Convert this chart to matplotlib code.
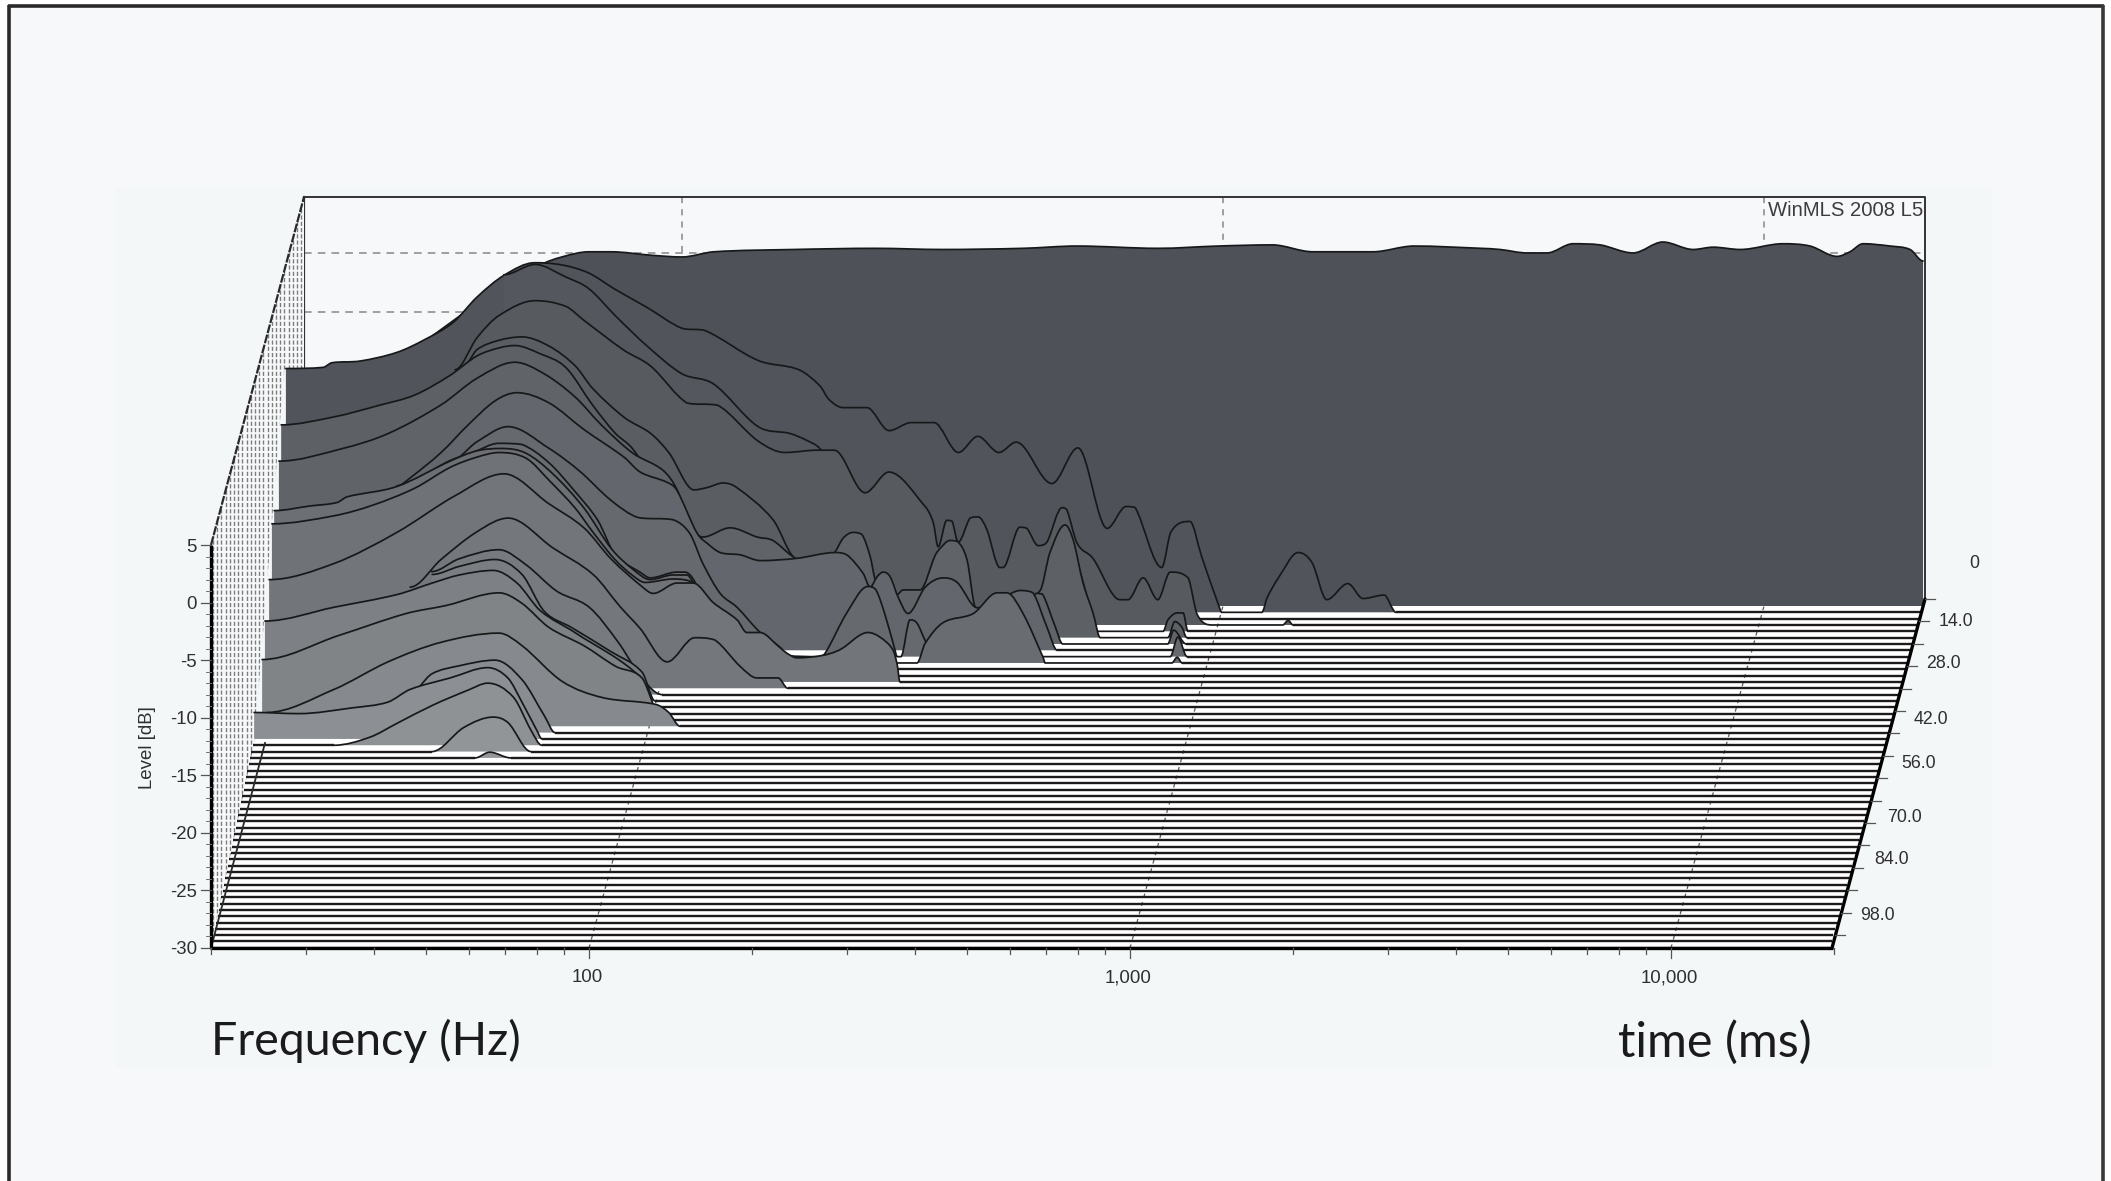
import numpy as np
import matplotlib
matplotlib.use("Agg")
import matplotlib.pyplot as plt
from matplotlib.patches import Polygon, Rectangle, PathPatch
from matplotlib.path import Path

# decay slices: log10(frequency in Hz) and level in dB
log_hz_00 = [1.294,1.664,1.738,1.778,1.828,1.869,1.943,2.0,2.059,2.207,2.357,2.481,2.63,2.73,2.88,2.991,3.091,3.166,3.277,3.353,3.477,3.512,3.562,3.599,3.647,3.697,3.758,3.813,3.869,3.906,3.956,4.035,4.085,4.135,4.159,4.183,4.233,4.27,4.294]
db_00 = [-12.1,-2.5,-0.35,0.35,0.8,0.8,0.5,0.35,0.8,1.0,1.1,1.0,1.1,1.3,1.1,1.3,1.4,0.8,0.8,1.3,1.1,1.0,0.7,0.7,1.5,1.4,0.7,1.65,1.0,1.2,1.0,1.5,1.3,0.4,0.8,1.5,1.3,1.0,0.0]

log_hz_01 = [1.271,1.34,1.356,1.408,1.476,1.527,1.58,1.624,1.674,1.731,1.782,1.831,1.879,1.939,2.003,2.046,2.144,2.219,2.258,2.275,2.301,2.345,2.386,2.427,2.469,2.514,2.55,2.589,2.621,2.687,2.735,2.789,2.824,2.841,2.89,2.907,2.942,2.964,2.996,3.001,3.075,3.085,3.107,3.142,3.168,3.195,3.234,3.262,3.301,3.323]
db_01 = [-8.8,-8.7,-8.3,-8.15,-7.4,-6.3,-4.8,-2.6,-0.7,0.4,0.2,-0.5,-1.9,-3.5,-5.3,-5.5,-8.1,-8.9,-10.3,-11.5,-12.2,-12.2,-14.2,-13.5,-13.5,-16.1,-14.7,-16.1,-15.2,-18.8,-15.7,-22.7,-20.8,-20.9,-26.1,-23.0,-22.1,-25.2,-29.5,-30,-30,-28.7,-26.9,-24.8,-25.7,-28.9,-27.5,-28.8,-28.5,-30]

log_hz_02 = [1.677,1.735,1.792,1.834,1.884,1.942,2.006,2.065,2.147,2.206,2.237,2.261,2.409,2.594,2.668,2.681,2.703,2.738,2.764,2.818,2.823]
db_02 = [-0.1,0.8,-0.3,-1.3,-3.7,-6.3,-8.7,-9.6,-13.3,-13.9,-14.5,-15.2,-23.2,-27.5,-28.0,-27.3,-27.1,-28.4,-29.1,-29.4,-30]

log_hz_03 = [1.59,1.631,1.671,1.738,1.795,1.828,1.902,1.952,2.019,2.076,2.15,2.2,2.259,2.291,2.348,2.392,2.459,2.474,2.483,2.499,2.509,2.52,2.542,2.557,2.573,2.597,2.603,2.634,2.647,2.668,2.684,2.712,2.721,2.74,2.769,2.819,2.834,2.862,2.889,2.912,2.945,2.962,2.989,3.12,3.13,3.139]
db_03 = [-7.8,-5.0,-3.1,-1.8,-2.3,-3.5,-6.1,-7.5,-10.7,-10.9,-14.0,-15.0,-14.8,-14.8,-18.5,-16.7,-19.7,-21.1,-23.2,-20.9,-21.0,-22.8,-20.7,-20.6,-21.7,-25.0,-25.0,-21.5,-21.6,-23.1,-22.8,-19.8,-20.0,-22.9,-24.2,-27.8,-27.8,-25.9,-27.8,-25.4,-25.9,-29.1,-30,-30,-29.6,-30]

log_hz_04 = [1.61,1.634,1.674,1.717,1.767,1.815,1.848,1.906,1.955,1.989,2.035,2.059,2.089,2.114,2.181,2.218,2.323,2.508,2.674,2.715,2.734,2.758,2.782,2.902,2.911,2.928,2.939,2.948]
db_04 = [-6.9,-5.5,-4.7,-4.4,-5.2,-6.9,-8.9,-11.4,-12.8,-14.5,-17.7,-17.5,-17.1,-17.5,-20.3,-23.5,-27.3,-29.0,-28.1,-21.2,-22.5,-26.4,-30,-30,-29.0,-28.4,-28.4,-30]

log_hz_05 = [1.275,1.373,1.456,1.522,1.587,1.637,1.678,1.707,1.753,1.801,1.851,1.892,1.925,1.975,2.049,2.234,2.419,2.604,2.678,2.696,2.724,2.739,2.757,2.776,2.789,2.914,2.927,2.94,2.949]
db_05 = [-11.5,-10.8,-9.8,-8.9,-7.2,-5.5,-4.8,-4.6,-5.3,-6.5,-9.8,-12.2,-13.6,-17.2,-23.2,-27.6,-28.5,-28.0,-25.9,-22.6,-20.2,-21.5,-25.2,-27.9,-30,-30,-28.6,-29.1,-30]

log_hz_06 = [1.274,1.392,1.476,1.574,1.64,1.71,1.764,1.821,1.871,1.928,1.984,2.01,2.034,2.058,2.108,2.158,2.187,2.224,2.274,2.302,2.317,2.335,2.352,2.367,2.376,2.394,2.418,2.428,2.459,2.487,2.496,2.514,2.529,2.546,2.561,2.607,2.662,2.675,2.686,2.709,2.723,2.917,2.928,2.951]
db_06 = [-14.1,-13.0,-11.7,-9.2,-6.9,-5.5,-6.5,-8.5,-11.0,-13.4,-14.9,-16.6,-19.7,-20.7,-19.9,-20.7,-21.0,-22.4,-23.6,-22.0,-20.8,-20.3,-20.5,-22.4,-24.4,-26.6,-25.7,-25.3,-25.3,-22.3,-21.7,-21.0,-21.1,-22.7,-26.8,-28.3,-26.2,-25.6,-25.7,-28.5,-30,-30,-28.8,-30]

log_hz_07 = [1.496,1.52,1.577,1.627,1.677,1.717,1.777,1.841,1.915,1.945,1.995,2.013,2.05,2.069,2.093,2.13,2.167,2.235,2.305,2.327,2.357,2.37,2.383,2.394,2.407,2.422,2.44,2.472,2.505,2.531,2.568,2.61,2.647,2.671,2.697,2.716]
db_07 = [-15.7,-15.0,-12.8,-10.4,-8.3,-7.6,-8.5,-10.8,-13.2,-14.5,-15.4,-16.1,-19.8,-20.7,-21.5,-21.7,-22.2,-22.0,-21.5,-21.7,-23.3,-24.5,-23.6,-23.2,-23.6,-25.4,-26.8,-24.5,-23.7,-24.1,-26.3,-25.6,-24.8,-25.0,-28.0,-30]

log_hz_08 = [1.597,1.647,1.704,1.78,1.837,1.894,1.944,2.009,2.04,2.064,2.096,2.127,2.17,2.207,2.22,2.277,2.29,2.33,2.369,2.384,2.401,2.419,2.423,2.43,2.447,2.46,2.475,2.493,2.706,2.928,2.942,2.959]
db_08 = [-13.0,-11.3,-10.0,-11.9,-13.9,-16.4,-17.9,-18.1,-19.3,-21.9,-24.5,-25.7,-27.9,-29.2,-29.9,-30,-29.7,-26.2,-23.9,-24.2,-26.4,-29.4,-30,-30,-26.8,-27.1,-28.6,-30,-30,-30,-28.3,-30]

log_hz_09 = [1.502,1.6,1.642,1.69,1.733,1.783,1.831,1.873,1.905,1.951,1.97,2.019,2.034,2.053,2.099,2.173,2.228,2.463,2.478,2.511,2.567,2.611,2.629,2.659,2.696,2.7,2.934,2.944,2.953]
db_09 = [-14.6,-12.4,-11.7,-10.9,-11.0,-12.6,-15.1,-17.6,-20.6,-22.1,-22.6,-22.1,-22.1,-23.0,-28.0,-28.9,-30,-30,-28.3,-26.5,-25.7,-23.9,-23.9,-25.7,-29.5,-30,-30,-29.5,-30]

log_hz_10 = [1.278,1.344,1.394,1.413,1.505,1.603,1.653,1.699,1.743,1.793,1.851,1.901,1.941,1.973,2.015,2.041,2.052,2.139,2.25]
db_10 = [-16.2,-15.8,-15.5,-15.0,-14.1,-11.9,-11.0,-10.8,-11.2,-13.0,-16.0,-19.5,-21.3,-22.2,-21.8,-21.8,-22.4,-28.3,-30]

log_hz_11 = [1.277,1.392,1.462,1.541,1.606,1.656,1.697,1.747,1.789,1.837,1.87,1.911,1.944,1.967,2.018,2.05,2.063,2.142,2.253]
db_11 = [-16.8,-16.1,-15.2,-13.7,-11.9,-11.0,-10.6,-11.1,-13.0,-15.4,-17.5,-19.9,-21.3,-21.9,-21.6,-21.8,-22.6,-28.2,-30]

log_hz_12 = [1.275,1.395,1.511,1.619,1.709,1.792,1.857,1.907,1.964,1.985,2.029,2.059,2.096,2.14,2.158,2.182,2.219,2.232,2.251,2.297,2.33,2.382,2.404,2.428,2.436,2.441]
db_12 = [-21.1,-19.7,-17.0,-13.8,-11.9,-14.5,-16.6,-19.3,-21.7,-22.3,-21.4,-21.4,-23.1,-24.6,-25.7,-25.7,-27.0,-27.5,-27.9,-27.7,-27.2,-25.7,-26.1,-27.2,-28.5,-30]

log_hz_13 = [1.539,1.596,1.662,1.72,1.803,1.877,1.927,1.964,2.014,2.065,2.102,2.149,2.18,2.219,2.237]
db_13 = [-21.2,-18.8,-16.4,-15.2,-17.8,-20.1,-22.9,-24.8,-27.7,-25.6,-25.8,-28.1,-29.1,-29.1,-30]

log_hz_14 = [1.582,1.632,1.706,1.756,1.813,1.873,1.926,1.971,2.008]
db_14 = [-19.3,-18.2,-17.4,-18.7,-21.0,-22.4,-25.4,-28.6,-30]

log_hz_15 = [1.586,1.636,1.702,1.752,1.793,1.843,1.916,1.974,1.998]
db_15 = [-19.0,-18.3,-17.7,-19.0,-22.2,-23.6,-25.7,-27.5,-30]

log_hz_16 = [1.28,1.408,1.524,1.589,1.639,1.702,1.746,1.789,1.853,1.977,1.996]
db_16 = [-22.5,-21.3,-20.2,-19.2,-18.5,-18.1,-19.2,-21.6,-23.5,-27.5,-30]

log_hz_17 = [1.278,1.42,1.544,1.618,1.716,1.758,1.808,1.873,1.932,1.98,2.013]
db_17 = [-25.3,-23.2,-21.3,-20.6,-19.5,-20.4,-22.5,-24.1,-25.9,-26.9,-30]

log_hz_18 = [2.02,2.03]
db_18 = [-30,-30]

log_hz_19 = [1.293,1.417,1.517,1.615,1.722,1.765,1.839,1.913,2.012,2.036,2.057]
db_19 = [-28.8,-26.8,-24.4,-22.7,-21.9,-23.0,-26.1,-27.5,-28.1,-28.8,-30]

log_hz_20 = [1.561,1.601,1.651,1.718,1.768,1.81,1.829]
db_20 = [-26.6,-24.9,-24.2,-23.7,-25.4,-28.6,-30]

log_hz_21 = [1.276,1.359,1.457,1.523,1.564,1.638,1.708,1.745,1.771,1.799,1.808]
db_21 = [-27.7,-27.8,-27.3,-26.8,-25.7,-24.7,-23.8,-24.7,-26.8,-29.3,-30]

log_hz_22 = [1.427,1.493,1.543,1.61,1.675,1.711,1.758,1.791,1.811]
db_22 = [-30,-29.3,-28.1,-26.5,-25.2,-24.6,-25.8,-28.7,-30]

log_hz_23 = [1.611,1.67,1.724,1.752,1.794]
db_23 = [-30,-27.9,-27.0,-27.5,-30]

log_hz_24 = [1.694,1.721,1.76]
db_24 = [-30,-29.5,-30]

slices = [
    (log_hz_00, db_00), (log_hz_01, db_01), (log_hz_02, db_02), (log_hz_03, db_03),
    (log_hz_04, db_04), (log_hz_05, db_05), (log_hz_06, db_06), (log_hz_07, db_07),
    (log_hz_08, db_08), (log_hz_09, db_09), (log_hz_10, db_10), (log_hz_11, db_11),
    (log_hz_12, db_12), (log_hz_13, db_13), (log_hz_14, db_14), (log_hz_15, db_15),
    (log_hz_16, db_16), (log_hz_17, db_17), (log_hz_18, db_18), (log_hz_19, db_19),
    (log_hz_20, db_20), (log_hz_21, db_21), (log_hz_22, db_22), (log_hz_23, db_23),
    (log_hz_24, db_24),
]

level_ticks = [5, 0, -5, -10, -15, -20, -25, -30]
freq_labels = {100: "100", 1000: "1,000", 10000: "10,000"}
time_labels = ["0", "14.0", "28.0", "42.0", "56.0", "70.0", "84.0", "98.0"]
n_slices = 54

W, H = 2111, 1181
fig = plt.figure(figsize=(W / 100, H / 100), dpi=100, facecolor="#ffffff")
ax = fig.add_axes([0, 0, 1, 1])
ax.set_xlim(0, W)
ax.set_ylim(H, 0)
ax.axis("off")


# oblique projection of (log freq, slice number, level) onto the page
def px(logf, t):
    return 541.0 * np.asarray(logf, dtype=float) - 400.0 - 1.722 * t


def py(db, t):
    return 606.0 + 6.33 * t - (np.asarray(db, dtype=float) + 30.0) * 11.5


def floor_left(t):
    return np.interp(t, [0, 21, 54], [286, 254, 211])


# bezier through the read points, no overshoot between them
def curve_verts(xs, ys):
    n = len(xs)
    slopes = np.zeros(n)
    for i in range(1, n - 1):
        if (ys[i] - ys[i - 1]) * (ys[i + 1] - ys[i]) > 0:
            slopes[i] = (ys[i + 1] - ys[i - 1]) / (xs[i + 1] - xs[i - 1])
    verts = [(xs[0], ys[0])]
    codes = [Path.MOVETO]
    for i in range(n - 1):
        dx = xs[i + 1] - xs[i]
        lo, hi = sorted((ys[i], ys[i + 1]))
        c1 = (xs[i] + dx / 3, np.clip(ys[i] + slopes[i] * dx / 3, lo, hi))
        c2 = (xs[i + 1] - dx / 3, np.clip(ys[i + 1] - slopes[i + 1] * dx / 3, lo, hi))
        verts += [c1, c2, (xs[i + 1], ys[i + 1])]
        codes += [Path.CURVE4] * 3
    return verts, codes


# page and frame
ax.add_patch(Rectangle((9, 6), 2094, H, fc="#f6f8fa", ec="none", zorder=0))
ax.add_patch(Rectangle((116, 187), 1876, 881, fc="#f3f7f8", ec="none", zorder=0))
ax.plot([9, 9], [H, 5], color="#2b2a2b", lw=2.6, zorder=0.5, solid_capstyle="butt")
ax.plot([8, 2104], [5.5, 5.5], color="#2b2a2b", lw=2.6, zorder=0.5, solid_capstyle="butt")
ax.plot([2103, 2103], [5, H], color="#3a393a", lw=2.6, zorder=0.5, solid_capstyle="butt")

# back wall
ax.add_patch(Rectangle((304, 197), 1621, 402, fc="#f6f8fa", ec="none", zorder=1))
for db in [0, -5]:
    y = 253 + (0 - db) * 11.8
    ax.plot([304, 1925], [y, y], color="#8a8684", lw=1.1, dashes=(5, 4), zorder=1.1)
for f in freq_labels:
    x = px(np.log10(f), 0)
    ax.plot([x, x], [197, 256], color="#8a8684", lw=1.1, dashes=(4, 4), zorder=1.1)
ax.text(1768, 210, "WinMLS 2008 L5", fontsize=14.6, family="Liberation Sans",
        color="#3d3d3f", ha="left", va="center", zorder=1.2, clip_on=True)
ax.plot([304, 1925, 1925], [197, 197, 599], color="#333235", lw=1.4, zorder=1.3)
ax.plot([304, 304], [197, 370], color="#333235", lw=1.6, zorder=1.3)

# hatched side wall
wall = Polygon([(211, 545), (304, 197), (304, 372), (284, 372), (254, 745), (211, 948)],
               closed=True, fc="#f6f8fa", ec="none", zorder=1.4)
ax.add_patch(wall)
for x in np.arange(213, 304, 4.2):
    ln, = ax.plot([x, x], [190, 950], color="#7d7d7d", lw=1.0, dashes=(3.0, 1.5), zorder=1.5)
    ln.set_clip_path(wall)
ax.plot([211, 304], [545, 197], color="#2a2a2a", lw=1.6, dashes=(4, 0.7), zorder=1.6)

# floor
floor = Polygon([(300, 606), (1923, 606), (1832, 948), (211, 948), (254, 745)], closed=True,
                fc="#ffffff", ec="none", zorder=1.7)
ax.add_patch(floor)
for f in freq_labels:
    lf = np.log10(f)
    ax.plot([px(lf, 54), px(lf, 0)], [948, 606], color="#5a5a5a", lw=0.9,
            dashes=(3, 4), zorder=1.8)

# slices, back to front
grey_back = np.array([0x4e, 0x52, 0x58]) / 255
grey_front = np.array([0x95, 0x98, 0x9b]) / 255
z = 2.0
for t in range(n_slices + 1):
    base = py(-30, t)
    right = 1923 - 1.722 * t
    if t < len(slices):
        lf, db = slices[t]
        xs, ys = px(lf, t), py(db, t)
        col = grey_back + (grey_front - grey_back) * (t / 24.0)
        if t >= 22:
            ax.plot([floor_left(t), xs[0]], [base, base], color="#1c1a1a", lw=1.7, zorder=z,
                    solid_capstyle="butt")
        verts, codes = curve_verts(xs, ys)
        fill_path = Path(verts + [(xs[-1], base), (xs[0], base), (xs[0], ys[0])],
                         codes + [Path.LINETO, Path.LINETO, Path.LINETO])
        ax.add_patch(PathPatch(fill_path, fc=col, ec="none", zorder=z + 0.1))
        ax.add_patch(PathPatch(Path(verts, codes), fc="none", ec="#17181a", lw=1.25,
                               zorder=z + 0.2, capstyle="round"))
        ax.plot([xs[-1], right], [base, base], color="#1c1a1a", lw=1.7, zorder=z + 0.2,
                solid_capstyle="butt")
    else:
        ax.plot([floor_left(t), right], [base, base], color="#1c1a1a", lw=1.7, zorder=z,
                solid_capstyle="butt")
    z += 0.5

top = z + 1
# 20 Hz edge of the floor
ax.plot([211, 265], [948, 743], color="#2a2a2a", lw=1.3, zorder=top)

# heavy front edges
ax.plot([211, 211], [545, 948], color="#000000", lw=2.4, zorder=top, solid_capstyle="butt")
ax.plot([210, 1833], [948, 948], color="#000000", lw=2.4, zorder=top, solid_capstyle="butt")
ax.plot([1832, 1925], [948, 599], color="#000000", lw=2.4, zorder=top, solid_capstyle="round")

# level axis
for d in range(-30, 6):
    y = 948 - (d + 30) * 11.51
    ax.plot([206, 211], [y, y], color="#777777", lw=0.7, zorder=top)
for d in level_ticks:
    y = 948 - (d + 30) * 11.51
    ax.plot([201, 211], [y, y], color="#555555", lw=0.9, zorder=top)
    ax.text(197, y + 2, str(d), fontsize=13.4, family="Liberation Sans", color="#2f2f30",
            ha="right", va="center", zorder=top)
ax.text(147, 748, "Level [dB]", fontsize=13.4, family="Liberation Sans", color="#2f2f30",
        rotation=90, ha="center", va="center", zorder=top)

# frequency axis
for dec in [10, 100, 1000, 10000]:
    for m in range(1, 10):
        f = dec * m
        if f < 20 or f > 20000:
            continue
        lf = np.log10(f)
        x = px(lf, 54)
        long_tick = f in freq_labels
        ax.plot([x, x], [948, 958 if long_tick else 954], color="#555555", lw=0.9, zorder=top)
for f, label in freq_labels.items():
    ax.text(px(np.log10(f), 54) - 2, 978, label, fontsize=13.4, family="Liberation Sans",
            color="#2f2f30", ha="center", va="center", zorder=top)

# time axis
for k in range(16):
    y = 599 + 22.4 * k
    x = 1925 - (y - 599) * 93 / 349
    ax.plot([x, x + 10], [y, y], color="#555555", lw=0.9, zorder=top)
label_x = [1974, 1956, 1943, 1931, 1919, 1904, 1892, 1877]
label_y = [564, 622, 664, 720, 763, 818, 860, 916]
for lab, x, y in zip(time_labels, label_x, label_y):
    ax.text(x, y, lab, fontsize=12.8, family="Liberation Sans", color="#2f2f30",
            ha="center", va="center", zorder=top)

# overlaid captions
ax.text(211, 1041, "Frequency (Hz)", fontsize=33.5, family="Lato", color="#1b1b1d",
        ha="left", va="center", zorder=top)
ax.text(1812, 1042, "time (ms)", fontsize=35, family="Lato", color="#1b1b1d",
        ha="right", va="center", zorder=top)

fig.savefig("out.png", dpi=100, facecolor=fig.get_facecolor())
